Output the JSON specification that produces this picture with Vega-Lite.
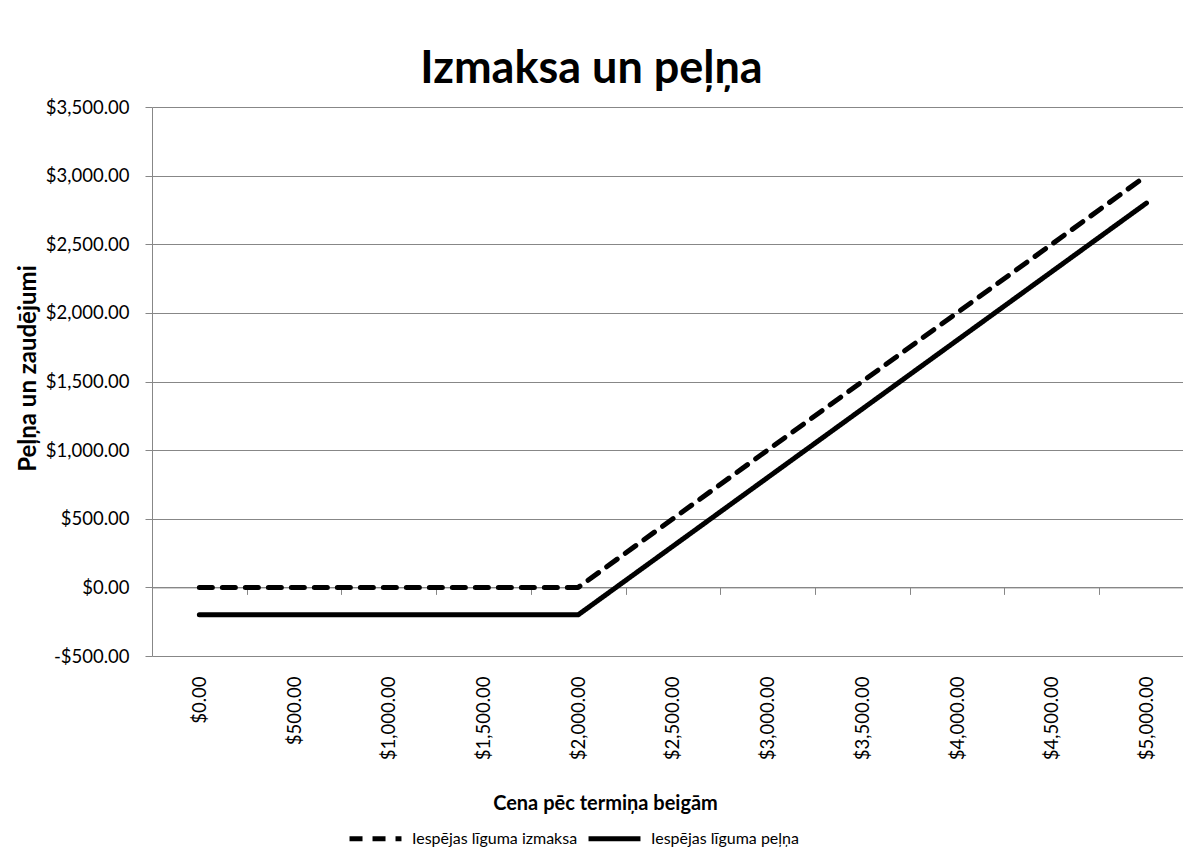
{
  "$schema": "https://vega.github.io/schema/vega-lite/v6.json",
  "width": 1031,
  "height": 549,
  "autosize": {"type": "none"},
  "padding": {"left": 152, "top": 107, "right": 0, "bottom": 211},
  "background": "white",
  "config": {
    "font": "Lato",
    "view": {"stroke": null}
  },
  "title": {
    "text": "Izmaksa un peļņa",
    "font": "Lato",
    "fontSize": 45,
    "fontWeight": "bold",
    "color": "black",
    "anchor": "middle",
    "dx": -76,
    "dy": 46,
    "baseline": "alphabetic",
    "offset": 16
  },
  "data": {
    "values": [
      {"S": 0, "v": 0, "s": "Iespējas līguma izmaksa"},
      {"S": 500, "v": 0, "s": "Iespējas līguma izmaksa"},
      {"S": 1000, "v": 0, "s": "Iespējas līguma izmaksa"},
      {"S": 1500, "v": 0, "s": "Iespējas līguma izmaksa"},
      {"S": 2000, "v": 0, "s": "Iespējas līguma izmaksa"},
      {"S": 2500, "v": 500, "s": "Iespējas līguma izmaksa"},
      {"S": 3000, "v": 1000, "s": "Iespējas līguma izmaksa"},
      {"S": 3500, "v": 1500, "s": "Iespējas līguma izmaksa"},
      {"S": 4000, "v": 2000, "s": "Iespējas līguma izmaksa"},
      {"S": 4500, "v": 2500, "s": "Iespējas līguma izmaksa"},
      {"S": 5000, "v": 3000, "s": "Iespējas līguma izmaksa"},
      {"S": 0, "v": -200, "s": "Iespējas līguma peļņa"},
      {"S": 500, "v": -200, "s": "Iespējas līguma peļņa"},
      {"S": 1000, "v": -200, "s": "Iespējas līguma peļņa"},
      {"S": 1500, "v": -200, "s": "Iespējas līguma peļņa"},
      {"S": 2000, "v": -200, "s": "Iespējas līguma peļņa"},
      {"S": 2500, "v": 300, "s": "Iespējas līguma peļņa"},
      {"S": 3000, "v": 800, "s": "Iespējas līguma peļņa"},
      {"S": 3500, "v": 1300, "s": "Iespējas līguma peļņa"},
      {"S": 4000, "v": 1800, "s": "Iespējas līguma peļņa"},
      {"S": 4500, "v": 2300, "s": "Iespējas līguma peļņa"},
      {"S": 5000, "v": 2800, "s": "Iespējas līguma peļņa"}
    ]
  },
  "encoding": {
    "y": {
      "field": "v",
      "type": "quantitative",
      "scale": {"domain": [-500, 3500], "nice": false, "zero": false},
      "axis": {
        "values": [-500, 0, 500, 1000, 1500, 2000, 2500, 3000, 3500],
        "format": "$,.2f",
        "labelExpr": "replace(datum.label, '−', '-')",
        "labelFont": "Lato",
        "labelFontSize": 18.5,
        "labelColor": "black",
        "labelPadding": 16,
        "tickSize": 7,
        "tickColor": "#878787",
        "tickWidth": 1,
        "domainColor": "#878787",
        "domainWidth": 1,
        "grid": true,
        "gridColor": "#878787",
        "gridWidth": 1,
        "title": "Peļņa un zaudējumi",
        "titleFont": "Lato",
        "titleFontSize": 24,
        "titleFontWeight": "bold",
        "titleColor": "black",
        "titleX": -124,
        "titleY": 261,
        "titleAlign": "center",
        "titleBaseline": "middle",
        "titleAngle": -90
      }
    }
  },
  "layer": [
    {
      "mark": {"type": "line", "color": "black", "strokeWidth": 5, "strokeCap": "round", "strokeJoin": "round"},
      "encoding": {
        "x": {
          "field": "S",
          "type": "quantitative",
          "scale": {"domain": [-250, 5193], "nice": false, "zero": false},
          "axis": {
            "orient": "bottom",
            "values": [0, 500, 1000, 1500, 2000, 2500, 3000, 3500, 4000, 4500, 5000],
            "format": "$,.2f",
            "labelFont": "Lato",
            "labelFontSize": 18.5,
            "labelColor": "black",
            "labelAngle": -90,
            "labelPadding": 20,
            "ticks": false,
            "tickSize": 0,
            "domain": false,
            "grid": false,
            "title": "Cena pēc termiņa beigām",
            "titleFont": "Lato",
            "titleFontSize": 20,
            "titleFontWeight": "bold",
            "titleColor": "black",
            "titleX": 453,
            "titleY": 147,
            "titleAlign": "center",
            "titleBaseline": "middle"
          }
        },
        "strokeDash": {
          "field": "s",
          "type": "nominal",
          "scale": {
            "domain": ["Iespējas līguma izmaksa", "Iespējas līguma peļņa"],
            "range": [[13, 10], [1, 0]]
          },
          "legend": {
            "orient": "none",
            "legendX": 195,
            "legendY": 703,
            "direction": "horizontal",
            "title": null,
            "symbolType": "stroke",
            "symbolSize": 2700,
            "symbolStrokeWidth": 5,
            "symbolStrokeColor": "black",
            "labelFont": "Lato",
            "labelFontSize": 16,
            "labelColor": "black",
            "labelOffset": 8,
            "labelLimit": 400,
            "columnPadding": 0
          }
        }
      }
    },
    {
      "mark": {"type": "point", "opacity": 0},
      "encoding": {
        "x": {
          "field": "S",
          "type": "quantitative",
          "axis": {
            "orient": "bottom",
            "values": [250, 750, 1250, 1750, 2250, 2750, 3250, 3750, 4250, 4750],
            "labels": false,
            "ticks": true,
            "tickSize": 7,
            "tickColor": "#878787",
            "tickWidth": 1,
            "domain": true,
            "domainColor": "#878787",
            "domainWidth": 1,
            "grid": false,
            "title": null,
            "offset": -68.6
          }
        }
      }
    }
  ],
  "resolve": {"axis": {"x": "independent"}}
}
